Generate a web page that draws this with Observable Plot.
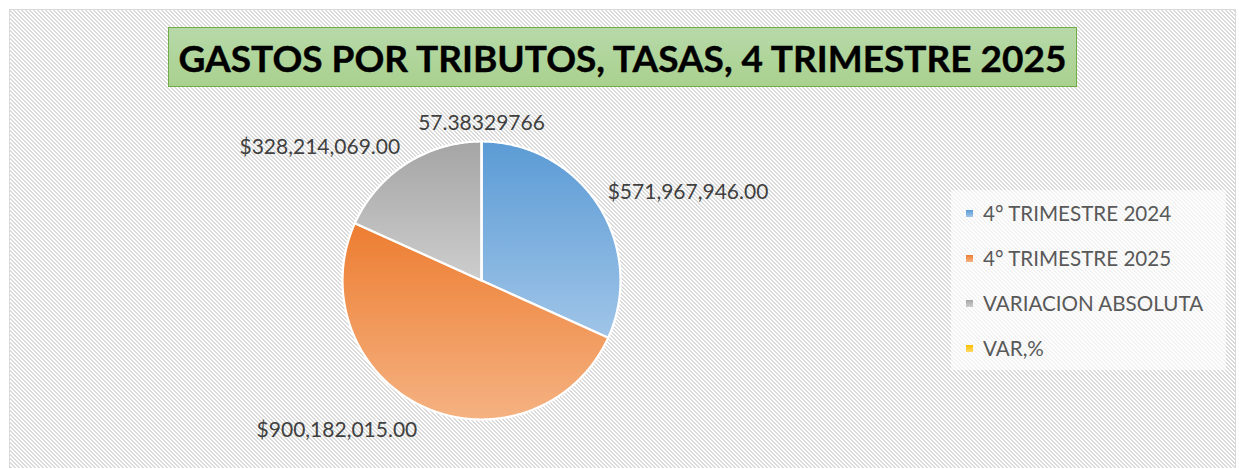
<!DOCTYPE html>
<html>
<head>
<meta charset="utf-8">
<script src="https://cdn.jsdelivr.net/npm/d3@7"></script>
<script src="https://cdn.jsdelivr.net/npm/@observablehq/plot@0.6"></script>
<style>
  html, body { margin: 0; padding: 0; background: #fff; }
  #wrap { position: relative; width: 1239px; height: 468px; overflow: hidden; font-family: Lato, "Noto Sans", sans-serif; }
  #bg { position: absolute; left: 9px; top: 9px; width: 1225px; height: 480px; border: 1px solid #d9d9d9;
        background: repeating-linear-gradient(45deg, #ffffff 0px, #ffffff 1.45px, #dadada 1.45px, #dadada 2.83px); }
  #title { position: absolute; left: 168px; top: 27px; width: 909px; height: 60px; box-sizing: border-box;
           border: 1px solid #70ad47; background: linear-gradient(180deg, #b7d9a9 0%, #a9d18e 100%);
           display: flex; align-items: center; justify-content: center;
           font-family: Lato, sans-serif; font-weight: 700; font-size: 37px; color: #000; white-space: nowrap;
           -webkit-text-stroke: 0.4px #000; }
  #chart { position: absolute; left: 0; top: 0; }
  #legendbox { position: absolute; left: 951px; top: 190px; width: 275px; height: 180px; background: rgba(255,255,255,0.65); }
  .item { position: absolute; left: 966px; height: 24px; display: flex; align-items: center;
          font-family: Lato, sans-serif; font-size: 20.6px; color: #595959; white-space: nowrap; }
  .item .sw { width: 7px; height: 7px; margin-right: 10px; }
</style>
</head>
<body>
<svg width="0" height="0" style="position:absolute">
  <defs id="grads"></defs>
</svg>
<div id="wrap">
  <div id="bg"></div>
  <div id="chart"></div>
  <div id="title"></div>
  <div id="legendbox"></div>
</div>
<script>
// ---- data ----
const titleText = "GASTOS POR TRIBUTOS, TASAS, 4 TRIMESTRE 2025";
const categories = ["4° TRIMESTRE 2024", "4° TRIMESTRE 2025", "VARIACION ABSOLUTA", "VAR,%"];
const values = [571967946.00, 900182015.00, 328214069.00, 57.38329766];
const labels = ["$571,967,946.00", "$900,182,015.00", "$328,214,069.00", "57.38329766"];

// ---- styles ----
const topColors = ["#5b9bd5", "#ed7d31", "#a5a5a5", "#ffc000"];
const bottomColors = ["#a0c5e8", "#f5b282", "#cdcdcd", "#ffd966"];

const defs = document.getElementById("grads");
topColors.forEach((c, i) => {
  defs.insertAdjacentHTML("beforeend",
    `<linearGradient id="slice-${i}" x1="0" y1="0" x2="0" y2="1">
       <stop offset="0" stop-color="${c}"/><stop offset="1" stop-color="${bottomColors[i]}"/>
     </linearGradient>`);
});

document.getElementById("title").textContent = titleText;

const data = categories.map((name, i) => ({name, value: values[i], label: labels[i], i}));
const arcs = d3.pie().sort(null).value(d => d.value).startAngle(0).endAngle(2 * Math.PI)(data);

// slice outlines in unit-radius data coordinates (y up)
const slices = arcs.map(a => {
  const n = Math.max(2, Math.ceil((a.endAngle - a.startAngle) / (Math.PI / 360)));
  const pts = [{x: 0, y: 0}];
  for (let k = 0; k <= n; k++) {
    const t = a.startAngle + (a.endAngle - a.startAngle) * k / n;
    pts.push({x: Math.sin(t), y: Math.cos(t)});
  }
  return {i: a.data.i, pts};
});

const labelData = arcs.map(a => {
  const m = (a.startAngle + a.endAngle) / 2;
  const s = Math.sin(m), c = Math.cos(m);
  const gap = c >= 0 ? 1.08 : 1.12;
  return {
    x: gap * s, y: gap * c, text: a.data.label,
    anchor: Math.abs(s) < 0.15 ? "middle" : (s > 0 ? "start" : "end"),
    line: c >= 0 ? "bottom" : "top"
  };
});

const textMarks = [];
for (const anchor of ["start", "end", "middle"]) {
  for (const line of ["top", "bottom"]) {
    const sub = labelData.filter(d => d.anchor === anchor && d.line === line);
    if (sub.length) textMarks.push(Plot.text(sub, {
      x: "x", y: "y", text: "text", textAnchor: anchor, lineAnchor: line,
      fontSize: 21, fill: "#404040", fontFamily: "Lato, sans-serif"
    }));
  }
}

const plot = Plot.plot({
  width: 1239,
  height: 468,
  margin: 0,
  style: {background: "transparent", overflow: "visible"},
  x: {domain: [-1, 1], range: [342, 620], axis: null},
  y: {domain: [-1, 1], range: [419, 141], axis: null},
  marks: [
    ...slices.map(s => Plot.line(s.pts, {
      x: "x", y: "y", curve: "linear-closed",
      fill: `url(#slice-${s.i})`, stroke: "white", strokeWidth: 2.2, strokeLinejoin: "round"
    })),
    ...textMarks
  ]
});
document.getElementById("chart").appendChild(plot);

// legend
const wrap = document.getElementById("wrap");
const rowTop = [201, 246, 291, 336];
categories.forEach((name, i) => {
  const d = document.createElement("div");
  d.className = "item";
  d.style.top = rowTop[i] + "px";
  d.innerHTML = `<span class="sw" style="background:linear-gradient(180deg, ${topColors[i]}, ${bottomColors[i]})"></span><span>${name}</span>`;
  wrap.appendChild(d);
});
</script>
</body>
</html>
